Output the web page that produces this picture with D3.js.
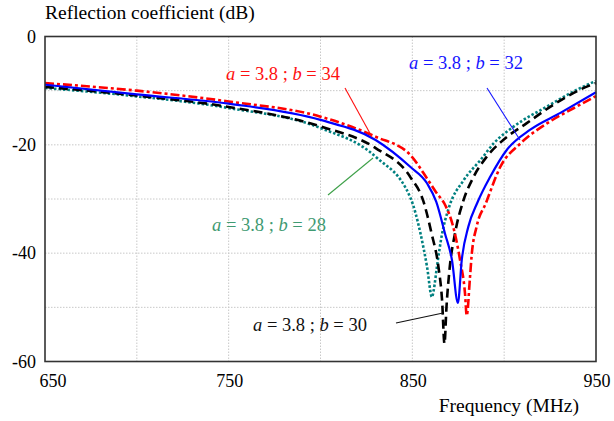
<!DOCTYPE html>
<html><head><script src="https://cdn.jsdelivr.net/npm/d3@7"></script></head>
<body style="margin:0">
<svg width="614" height="421" font-family="Times New Roman"></svg>
<script>
// frequency (MHz) / reflection coefficient (dB)
var freqB34 = [650, 700, 750, 800, 830, 849, 858, 863, 868, 872, 876, 878.7, 879.6, 881.4, 882.3, 885, 890, 898, 909, 923.5, 938, 950];
var dbB34   = [-8.6, -10, -12, -14.8, -18.5, -21.9, -26.2, -28.8, -31.2, -34.8, -41.3, -47.5, -51.5, -44.4, -40.4, -35.1, -30.8, -24, -19.7, -16, -13.2, -11];

var freqB32 = [650, 700, 750, 800, 830, 849, 858, 863, 867.8, 871.6, 874.8, 876.9, 880.5, 885.5, 892.4, 901.5, 914.2, 930.6, 950];
var dbB32   = [-8.9, -10.7, -12.4, -15.4, -19.1, -24.1, -27.1, -30.5, -36.4, -41.3, -49.2, -41.3, -35.1, -30.6, -25.9, -20.9, -17.2, -14.1, -10.3];

var freqB30 = [650, 700, 750, 800, 830, 849, 856, 860.5, 864.2, 866.2, 867.5, 868.6, 870.4, 873.2, 877.7, 883.2, 890.5, 899.5, 912.3, 926.8, 941.4, 950];
var dbB30   = [-9.3, -10.9, -13, -16.6, -20.6, -26, -30.4, -36.4, -42.5, -48.7, -56.7, -49.9, -42.5, -36.4, -30.4, -26, -22.2, -19.1, -16, -12.6, -9.8, -8.6];

var freqB28 = [650, 700, 750, 800, 830, 849, 854.4, 858, 860.7, 861.6, 863.4, 866.2, 869.8, 878, 887.1, 894.4, 905.3, 923.5, 939.8, 950];
var dbB28   = [-9.5, -11.05, -13.2, -16.9, -22.2, -29.8, -36.3, -42.5, -48.1, -46.9, -42.5, -36.4, -31.7, -26.5, -22.8, -19.7, -16.6, -12.9, -9.8, -8.2];

var xGrid = [700, 750, 800, 850, 900];
var yGrid = [-10, -20, -30, -40, -50];
var xTickLabels = [650, 750, 850, 950];
var yTickLabels = [0, -20, -40, -60];

var svg = d3.select('svg');
var FAM = "'Times New Roman'";

var x = d3.scaleLinear().domain([650, 950]).range([45, 596]);
var y = d3.scaleLinear().domain([-60, 0]).range([361.5, 36.5]);

// grid
var grid = svg.append('g');
grid.selectAll('line.v').data(xGrid).enter().append('line').attr('class', 'v')
    .attr('x1', function (d) { return x(d); })
    .attr('x2', function (d) { return x(d); })
    .attr('y1', y(0)).attr('y2', y(-60))
    .attr('stroke', '#c8c8c8').attr('stroke-dasharray', '1.5,1.5');
grid.selectAll('line.h').data(yGrid).enter().append('line').attr('class', 'h')
    .attr('y1', function (d) { return y(d); })
    .attr('y2', function (d) { return y(d); })
    .attr('x1', x(650)).attr('x2', x(950))
    .attr('stroke', '#c8c8c8').attr('stroke-dasharray', '1.5,1.5');

// curves
var series = [
    { f: freqB28, v: dbB28, color: '#008080', dash: '2.5,2', width: 2.6 },
    { f: freqB30, v: dbB30, color: '#000000', dash: '9,5', width: 2.6 },
    { f: freqB34, v: dbB34, color: '#ff0000', dash: '9,3,3,3', width: 2.6 },
    { f: freqB32, v: dbB32, color: '#0000ff', dash: null, width: 2.2 }
];
var line = d3.line()
    .x(function (d) { return x(d[0]); })
    .y(function (d) { return y(d[1]); })
    .curve(d3.curveMonotoneX);

svg.append('g')
    .selectAll('path').data(series).enter().append('path')
    .attr('d', function (s) { return line(d3.zip(s.f, s.v)); })
    .attr('fill', 'none')
    .attr('stroke', function (s) { return s.color; })
    .attr('stroke-width', function (s) { return s.width; })
    .attr('stroke-dasharray', function (s) { return s.dash; });

// frame
svg.append('rect')
    .attr('x', x(650)).attr('y', y(0))
    .attr('width', x(950) - x(650)).attr('height', y(-60) - y(0))
    .attr('fill', 'none').attr('stroke', '#333').attr('stroke-width', 1.6);

// tick labels
svg.selectAll('text.yl').data(yTickLabels).enter().append('text').attr('class', 'yl')
    .attr('x', 36).attr('y', function (d) { return y(d) + 6; })
    .attr('text-anchor', 'end')
    .style('font-size', '18px')
    .style('font-family', FAM)
    .text(function (d) { return d; });
svg.selectAll('text.xl').data(xTickLabels).enter().append('text').attr('class', 'xl')
    .attr('x', function (d) { return x(d) + (d === 650 ? 8 : 1); })
    .attr('y', 387).attr('text-anchor', 'middle')
    .style('font-size', '18px')
    .style('font-family', FAM)
    .text(function (d) { return d; });

// axis titles
svg.selectAll('text.ttl').data([
    { t: 'Reflection coefficient (dB)', x: 45, y: 19, a: 'start' },
    { t: 'Frequency (MHz)', x: 579, y: 412, a: 'end' }
]).enter().append('text').attr('class', 'ttl')
    .attr('x', function (d) { return d.x; })
    .attr('y', function (d) { return d.y; })
    .attr('text-anchor', function (d) { return d.a; })
    .style('font-size', '19.5px')
    .style('font-family', FAM)
    .text(function (d) { return d.t; });

// annotations
var notes = [
    { b: 34, color: '#ff1010', tx: 226, ty: 80, line: [[345, 88], [372, 137]] },
    { b: 32, color: '#1515ff', tx: 409, ty: 69, line: [[487, 88], [520, 140]] },
    { b: 28, color: '#3f9a72', tx: 212, ty: 231, line: [[328, 195], [373, 158]], lineColor: '#3da048' },
    { b: 30, color: '#111111', tx: 253, ty: 331, line: [[396, 323], [443, 313]] }
];
notes.forEach(function (n) {
    svg.append('line')
        .attr('x1', n.line[0][0]).attr('y1', n.line[0][1])
        .attr('x2', n.line[1][0]).attr('y2', n.line[1][1])
        .attr('stroke', n.lineColor || n.color).attr('stroke-width', 1.1);
    var t = svg.append('text').attr('x', n.tx).attr('y', n.ty)
        .attr('fill', n.color)
        .style('font-size', '18.5px')
        .style('font-family', FAM);
    t.append('tspan').style('font-style', 'italic').text('a');
    t.append('tspan').text(' = 3.8 ; ');
    t.append('tspan').style('font-style', 'italic').text('b');
    t.append('tspan').text(' = ' + n.b);
});
</script>
</body></html>
